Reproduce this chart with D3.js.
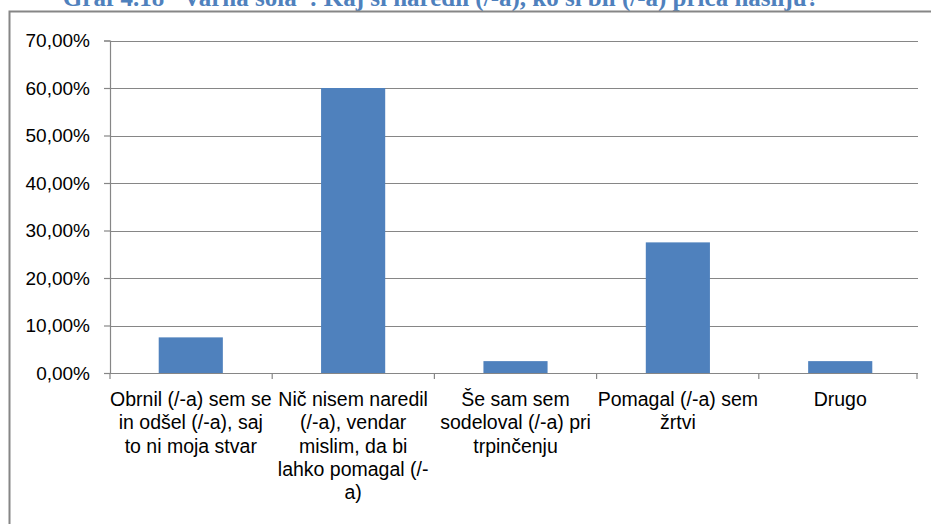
<!DOCTYPE html>
<html lang="sl">
<head>
<meta charset="utf-8">
<title>Graf 4.18 Varna šola</title>
<script src="https://cdn.jsdelivr.net/npm/d3@7/dist/d3.min.js"></script>
<style>
  body { margin: 0; background: #fff; }
  text { font-family: "Liberation Sans Narrow", "Arial Narrow", "Liberation Sans", sans-serif; }
</style>
</head>
<body>
<script>
var categories = [
  "Obrnil (/-a) sem se\nin odšel (/-a), saj\nto ni moja stvar",
  "Nič nisem naredil\n(/-a), vendar\nmislim, da bi\nlahko pomagal (/-\na)",
  "Še sam sem\nsodeloval (/-a) pri\ntrpinčenju",
  "Pomagal (/-a) sem\nžrtvi",
  "Drugo"
];
var values = [7.5, 60.0, 2.5, 27.5, 2.5];
var yTicks = [0, 10, 20, 30, 40, 50, 60, 70];
var title = "Graf 4.18 “Varna šola”: Kaj si naredil (/-a), ko si bil (/-a) priča nasilju?";

var W = 931, H = 524;
var pLeft = 110, pRight = 921, pTop = 40.5, pBottom = 373, gridEnd = 918;
var grey = "#868686";

var svg = d3.select("body").append("svg").attr("width", W).attr("height", H);

// title, cut off by the top of the picture
svg.append("text")
  .attr("x", 441).attr("y", 6)
  .attr("text-anchor", "middle")
  .style("font-family", "'Liberation Serif', 'Times New Roman', serif")
  .style("font-weight", "bold")
  .style("font-size", "25px")
  .style("fill", "#4f81bd")
  .text(title);

// chart frame
svg.append("rect")
  .attr("x", 9.5).attr("y", 11.5)
  .attr("width", W + 10).attr("height", H)
  .attr("fill", "none").attr("stroke", grey).attr("stroke-width", 2);

var x = d3.scaleBand().domain(d3.range(categories.length)).range([pLeft, pRight]).paddingInner(0.605).paddingOuter(0.3);
var xEdge = d3.scaleLinear().domain([0, categories.length]).range([pLeft, pRight]);
var y = d3.scaleLinear().domain([0, 70]).range([pBottom, pTop]);

// gridlines
svg.append("g").selectAll("line").data(yTicks.slice(1)).join("line")
  .attr("x1", pLeft).attr("x2", gridEnd)
  .attr("y1", function(d) { return Math.round(y(d)) + 0.5; })
  .attr("y2", function(d) { return Math.round(y(d)) + 0.5; })
  .attr("stroke", grey).attr("stroke-width", 1.2);

// y axis
var yAxis = d3.axisLeft(y).tickValues(yTicks).tickSize(6).tickPadding(14)
  .tickFormat(function(d) { return d3.format(".2f")(d).replace(".", ",") + "%"; });
var gy = svg.append("g").attr("transform", "translate(" + pLeft + ",0)").call(yAxis);
gy.select(".domain").attr("stroke", grey).attr("stroke-width", 1.2);
gy.selectAll(".tick line").attr("stroke", grey).attr("stroke-width", 1.2);
gy.selectAll(".tick text").style("font-size", "19px").style("fill", "#000")
  .style("font-family", "'Liberation Sans', sans-serif");

// bars
svg.append("g").selectAll("rect").data(values).join("rect")
  .attr("x", function(d, i) { return x(i); })
  .attr("y", function(d) { return y(d); })
  .attr("width", x.bandwidth())
  .attr("height", function(d) { return pBottom - y(d); })
  .attr("fill", "#4f81bd");

// x axis line and ticks between categories
svg.append("line").attr("x1", pLeft).attr("x2", gridEnd).attr("y1", pBottom + 0.5).attr("y2", pBottom + 0.5)
  .attr("stroke", grey).attr("stroke-width", 1.2);
svg.append("g").selectAll("line").data(d3.range(categories.length + 1)).join("line")
  .attr("x1", function(d) { return Math.min(xEdge(d), gridEnd - 1); })
  .attr("x2", function(d) { return Math.min(xEdge(d), gridEnd - 1); })
  .attr("y1", pBottom).attr("y2", pBottom + 6)
  .attr("stroke", grey).attr("stroke-width", 1.2);

// category labels
var lab = svg.append("g").selectAll("text").data(categories).join("text")
  .attr("text-anchor", "middle")
  .style("font-size", "19.5px")
  .style("fill", "#000")
  .attr("transform", function(d, i) { return "translate(" + (x(i) + x.bandwidth() / 2) + "," + 406 + ")"; });
lab.selectAll("tspan").data(function(d) { return d.split("\n"); }).join("tspan")
  .attr("x", 0)
  .attr("y", function(d, i) { return i * 23.3; })
  .text(function(d) { return d; });
</script>
</body>
</html>
